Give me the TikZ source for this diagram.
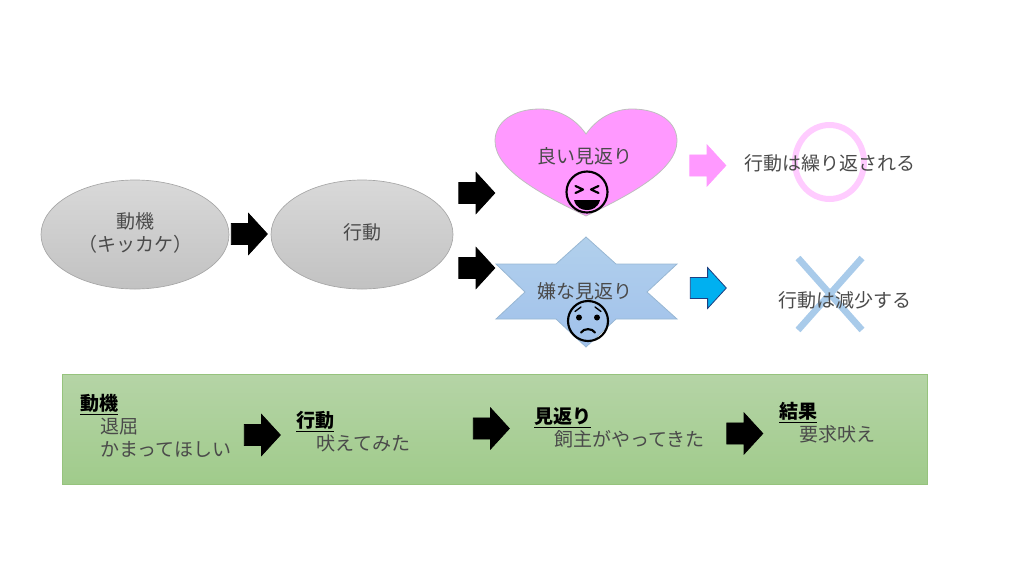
\documentclass[tikz,border=0pt]{standalone}
\usepackage{fontspec}
\setmainfont{Noto Sans CJK JP}
\usetikzlibrary{shapes.arrows}
\definecolor{txt}{HTML}{4A4A4A}
\definecolor{pinkfill}{HTML}{FF99FF}
\definecolor{ringpink}{HTML}{FFCCFF}
\definecolor{crossblue}{HTML}{A9CBEA}
\definecolor{skyblue}{HTML}{00B0F0}
\definecolor{deepblue}{HTML}{1F3F80}
\definecolor{panelline}{HTML}{96C37D}
\definecolor{paneltop}{HTML}{B5D4A6}
\definecolor{panelbot}{HTML}{A0CB8B}
\tikzset{
  px/.style={x=0.75pt,y=-0.75pt},
  arrowshape/.style={single arrow,line width=0.6pt,minimum height=27pt,minimum width=30pt,
    inner xsep=0pt,inner ysep=7.6pt,single arrow head extend=7.4pt,single arrow tip angle=95,text height=0pt,text depth=0pt,text width=0pt},
  blockarrow/.style={arrowshape,draw=#1,fill=#1},
  ovalshape/.style={draw=black!35,line width=0.5pt,top color=black!15,bottom color=black!24},
  lbl/.style={text=txt,font=\fontsize{14.25}{17.25}\selectfont,inner sep=0pt,align=center},
  lft/.style={text=txt,font=\fontsize{14.25}{17.25}\selectfont,inner sep=0pt,align=left,anchor=north west},
  face/.style={draw=black,line width=1.6pt,line cap=round,line join=round},
}
\newcommand{\hd}[1]{\textcolor{black}{\textbf{\underline{#1}}}}
\begin{document}
\begin{tikzpicture}[px]
\useasboundingbox (0,0) rectangle (1024,576);
% ovals
\path[ovalshape] (135,234.5) ellipse [x radius=94,y radius=54.5];
\path[ovalshape] (362,234.5) ellipse [x radius=91,y radius=54.5];
\node[lbl] (motive) at (135,233) {動機\\（キッカケ）};
\node[lbl] (action) at (362,232) {行動};
% heart
\draw[fill=pinkfill,draw=black!25,line width=0.6pt]
  (586,134) .. controls (574,117) and (557,109) .. (540,109)
  .. controls (513,109) and (495,122) .. (495,141)
  .. controls (495,171) and (545,196) .. (586,216)
  .. controls (627,196) and (677,171) .. (677,141)
  .. controls (677,122) and (659,109) .. (632,109)
  .. controls (615,109) and (598,117) .. (586,134) -- cycle;
\node[lbl] (good) at (585,156) {良い見返り};
% star
\path[draw=crossblue!90!black,line width=0.6pt,top color=crossblue!90!white,bottom color=crossblue!95!blue]
  (586,237) -- (616,264) -- (677,264) -- (647,292) -- (677,319) -- (616,319) -- (586,347)
  -- (556,319) -- (496,319) -- (525,292) -- (496,264) -- (556,264) -- cycle;
\node[lbl] (bad) at (585,291) {嫌な見返り};
% happy face
\draw[face] (587,192) circle [radius=20.5];
\draw[face] (575.5,186) -- (583,189.5) -- (575.5,193);
\draw[face] (598.5,186) -- (591,189.5) -- (598.5,193);
\fill[black] (574,200) -- (600,200) .. controls (598,208) and (592,210) .. (587,210) .. controls (582,210) and (576,208) .. (574,200) -- cycle;
% sad face
\draw[face] (588,321) circle [radius=20];
\fill[black] (579,317.5) circle [radius=3] (597,317.5) circle [radius=3];
\draw[face,line width=1pt] (575,311.5) -- (581,307) (601,311.5) -- (595,307);
\draw[face,line width=1.6pt] (581,332.5) .. controls (584,328) and (592,328) .. (595,332.5);
% arrows upper
\node[blockarrow=black] (a1) at (244.5,234) {};
\node[blockarrow=black] (a2) at (472,193) {};
\node[blockarrow=black] (a3) at (472,268) {};
\node[blockarrow=pinkfill] (a4) at (703,165.5) {};
\node[arrowshape,draw=deepblue,fill=skyblue] (a5) at (703.5,288) {};
% ring and cross
\draw[ringpink,line width=4.5pt] (829.5,162) ellipse [x radius=34.5,y radius=37];
\draw[crossblue,line width=5pt] (798,258) -- (862,330) (862,258) -- (798,330);
\node[lbl] (rep) at (830,163) {行動は繰り返される};
\node[lbl] (dec) at (845,300) {行動は減少する};
% panel
\path[draw=panelline,line width=0.6pt,top color=paneltop,bottom color=panelbot] (62.5,374.5) rectangle (927.5,484.5);
\node[lft] (p1) at (80,394) {\hd{動機}\\\hspace*{1.05em}退屈\\\hspace*{1.05em}かまってほしい};
\node[lft] (p2) at (296,411) {\hd{行動}\\\hspace*{1.05em}吠えてみた};
\node[lft] (p3) at (534,407.5) {\hd{見返り}\\\hspace*{1.05em}飼主がやってきた};
\node[lft] (p4) at (779,402) {\hd{結果}\\\hspace*{1.05em}要求吠え};
\node[blockarrow=black] (b1) at (257.5,435) {};
\node[blockarrow=black] (b2) at (486.5,428.5) {};
\node[blockarrow=black] (b3) at (740,433.5) {};
\end{tikzpicture}
\end{document}
